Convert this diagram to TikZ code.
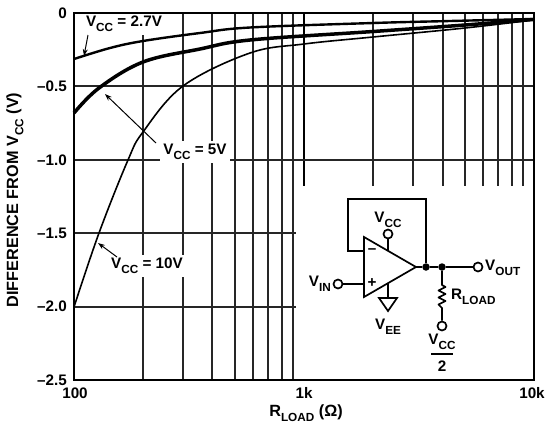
\documentclass[tikz,border=0pt]{standalone}
\usepackage{fontspec}
\setmainfont{Liberation Sans}
\usetikzlibrary{arrows.meta}
\newcommand\lblfont{\fontsize{15.3}{17}\bfseries\selectfont}
\newcommand\titlefont{\fontsize{16.3}{18}\bfseries\selectfont}
\newcommand\subs[1]{\raisebox{-0.32em}{\fontsize{11.8}{13}\bfseries\selectfont #1}}
\tikzset{
  gridline/.style={line width=1.2bp, black!85},
  decline/.style={line width=2bp, black},
  frameline/.style={line width=2.2bp},
  ticklab/.style={font=\lblfont, inner sep=0pt},
  titlelab/.style={font=\titlefont, inner sep=0pt},
  curvelab/.style={font=\lblfont, fill=white, inner sep=3pt},
  pointer/.style={-{Stealth[length=7bp,width=5bp]}, line width=1bp},
  wire/.style={line width=1.7bp},
  pin/.style={circle, draw, line width=1.7bp, fill=white, minimum size=9bp, inner sep=0pt},
  junction/.style={circle, fill=black, minimum size=7.5bp, inner sep=0pt},
}
\begin{document}
\begin{tikzpicture}[x=1bp, y=-1bp]
\useasboundingbox (0,0) rectangle (547,427);
% grid
\foreach \gx in {143,183,212,235,253,268,282,293,373,413,443,465,483,498,512,523} {
  \draw[gridline] (\gx,13) -- (\gx,380);
}
\draw[decline] (304,13) -- (304,380);
\foreach \gy in {86,160,233,307} {
  \draw[gridline] (74,\gy) -- (534,\gy);
}
% inset area
\fill[white] (296,186) rectangle (532.5,378.5);
% curve labels
\node[curvelab] (l27) at (124,24) {V\subs{CC} = 2.7V};
\node[curvelab] (l5) at (195,152) {V\subs{CC} = 5V};
\node[curvelab] (l10) at (147,266) {V\subs{CC} = 10V};
% curves
\draw[line width=2.4bp] plot[smooth, tension=0.6] coordinates {(74,59) (110,48) (143,41) (200,33) (250,27.5) (373,23) (450,21) (533,19)};
\draw[line width=3.5bp] plot[smooth, tension=0.6] coordinates {(74,113) (99,88) (143,62) (200,49) (250,40) (373,31.5) (465,25) (533,19.5)};
\draw[line width=1.6bp] plot[smooth, tension=0.6] coordinates {(74,307) (99,233) (128,160) (143,132) (183,86) (250,53) (304,44) (373,37) (465,28) (533,20)};
% pointers
\coordinate (s27) at (88,35);
\coordinate (t27) at (84,56);
\coordinate (s5) at (156,143);
\coordinate (t5) at (105,94);
\coordinate (s10) at (117,257);
\coordinate (t10) at (98,243);
\draw[pointer] (s27) -- (t27);
\draw[pointer] (s5) -- (t5);
\draw[pointer] (s10) -- (t10);
% frame
\draw[frameline] (74,13) rectangle (534,380);
% tick labels
\node[ticklab, anchor=east] (y0) at (67,13) {0};
\node[ticklab, anchor=east] (y1) at (67,86.4) {–0.5};
\node[ticklab, anchor=east] (y2) at (67,159.8) {–1.0};
\node[ticklab, anchor=east] (y3) at (67,233.2) {–1.5};
\node[ticklab, anchor=east] (y4) at (67,306.6) {–2.0};
\node[ticklab, anchor=east] (y5) at (67,380) {–2.5};
\node[ticklab] (x0) at (75,393) {100};
\node[ticklab] (x1) at (304,393) {1k};
\node[ticklab] (x2) at (532,393) {10k};
\node[titlelab] (xt) at (306,413) {R\subs{LOAD} (Ω)};
\node[titlelab, rotate=90] (yt) at (15,200) {DIFFERENCE FROM V\subs{CC} (V)};
% circuit
\coordinate (ta) at (364,237);
\coordinate (tb) at (364,297);
\coordinate (tc) at (416,267);
\draw[wire, line join=miter] (ta) -- (tb) -- (tc) -- cycle;
\node[font=\lblfont] (minus) at (372,251) {–};
\node[font=\lblfont] (plus) at (372,283) {+};
\coordinate (inm) at (364,251);
\coordinate (inp) at (364,284);
\coordinate (fb1) at (348,251);
\coordinate (fb2) at (348,199);
\coordinate (fb3) at (426,199);
\node[junction] (j1) at (426,267) {};
\node[junction] (j2) at (442,267) {};
\draw[wire] (inm) -- (fb1) -- (fb2) -- (fb3) -- (j1);
\node[pin] (vin) at (338,284) {};
\draw[wire] (vin) -- (inp);
\node[ticklab, anchor=east] (vinl) at (331,284) {V\subs{IN}};
\coordinate (vcct) at (388,250.8);
\node[pin] (vccp) at (388,234) {};
\draw[wire] (vcct) -- (vccp);
\node[ticklab] (vccl) at (388,220) {V\subs{CC}};
\coordinate (veet) at (388,283.2);
\coordinate (gnd) at (388,298);
\draw[wire] (veet) -- (gnd);
\draw[wire, line join=miter] (379,298) -- (397,298) -- (388,311) -- cycle;
\node[ticklab] (veel) at (388,327) {V\subs{EE}};
\node[pin] (vout) at (478,267) {};
\draw[wire] (tc) -- (j1) -- (j2) -- (vout);
\node[ticklab, anchor=west] (voutl) at (485,268) {V\subs{OUT}};
\node[pin] (rc) at (442,326) {};
\coordinate (r1) at (442,285);
\coordinate (r2) at (442,308);
\draw[wire, line join=round] (j2) -- (r1) -- (445.5,287) -- (438.5,290.5) -- (445.5,294) -- (438.5,297.5) -- (445.5,301) -- (438.5,304.5) -- (r2) -- (rc);
\node[ticklab, anchor=west] (rl) at (451,297) {R\subs{LOAD}};
\node[ticklab] (vcc2) at (442,342) {V\subs{CC}};
\draw[wire] (431,354) -- (453,354);
\node[ticklab] (two) at (442,366) {2};
\end{tikzpicture}
\end{document}
